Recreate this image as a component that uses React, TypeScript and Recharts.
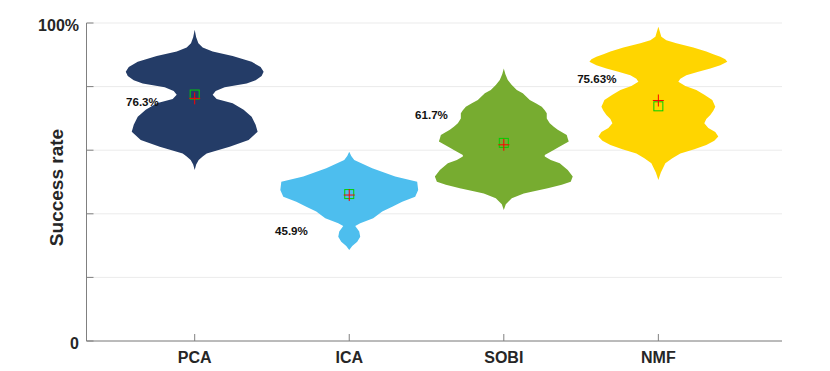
import React from 'react';
import { ComposedChart, Area, Scatter, XAxis, YAxis, CartesianGrid } from 'recharts';

const categories = ['PCA', 'ICA', 'SOBI', 'NMF'];
const colors = ['#243C67', '#4DBEEE', '#77AC30', '#FFD500'];
const medianRate = [76.3, 45.9, 61.7, 75.63];
const meanRate = [77.5, 46.2, 62.3, 73.8];
const rateLabels = ['76.3%', '45.9%', '61.7%', '75.63%'];
const labelX = [0.662, 1.626, 2.532, 3.602];
const labelRate = [75.2, 34.9, 71.3, 82.5];
const yTicks = [0, 20, 40, 60, 80, 100];
const xTicks = [1, 2, 3, 4];

// violin profiles: success-rate levels and relative half-widths (density)
const pcaLevels = [53.8, 55.5, 56.9, 58.0, 59.0, 60.0, 61.1, 63.2, 65.8, 68.0, 70.5, 72.7, 74.8, 76.1, 77.4, 78.6, 79.8, 81.0, 82.0, 83.3, 84.7, 86.2, 87.8, 89.6, 91.0, 92.3, 93.6, 95.5, 97.9];
const pcaWidths = [0, 1.5, 4, 8, 12, 23, 35, 54, 63, 61, 57, 49, 38, 22, 18, 21, 30, 52, 61, 67, 69, 66, 57, 38, 18, 8, 3.7, 1.5, 0];

const icaLevels = [28.6, 29.9, 31.2, 32.8, 34.4, 36.2, 37.0, 38.6, 40.7, 42.2, 43.8, 45.4, 47.5, 50.1, 51.7, 54.3, 56.9, 58.2, 59.5];
const icaWidths = [0, 3, 8, 11, 10, 6, 11, 24, 33, 43, 53, 66, 69, 68, 46, 23, 5, 2, 0];

const sobiLevels = [41.2, 43.0, 44.9, 46.4, 47.0, 48.0, 49.1, 50.1, 51.7, 53.8, 55.9, 56.9, 58.0, 58.5, 60.1, 60.6, 62.7, 63.7, 64.8, 66.4, 67.4, 68.5, 70.0, 71.6, 72.6, 73.7, 74.8, 75.8, 77.9, 78.9, 80.5, 82.1, 84.0, 85.7];
const sobiWidths = [0, 2, 8, 20, 29, 44, 58, 67, 69, 64, 56, 47, 41, 41, 50, 53, 65, 64, 63, 54, 50, 46, 43, 43, 41, 38, 32, 26, 19, 13, 8, 4, 1.5, 0];

const nmfLevels = [50.6, 53.0, 55.9, 57.5, 59.0, 60.3, 61.6, 63.0, 64.3, 65.7, 67.0, 68.5, 69.8, 71.1, 72.4, 73.7, 75.8, 77.4, 78.9, 80.2, 81.5, 82.5, 83.6, 84.7, 85.7, 86.7, 87.8, 88.6, 89.4, 90.2, 91.0, 92.3, 93.6, 94.6, 95.7, 98.8];
const nmfWidths = [0, 2.5, 7, 14, 22, 36, 48, 56, 60, 57, 50, 46, 48, 52, 55, 57, 54, 46, 38, 27, 20, 22, 28, 40, 52, 62, 69, 67, 62, 55, 48, 35, 18, 8, 3, 0];

const profiles = [
  { levels: pcaLevels, widths: pcaWidths },
  { levels: icaLevels, widths: icaWidths },
  { levels: sobiLevels, widths: sobiWidths },
  { levels: nmfLevels, widths: nmfWidths },
];

const MAX_DENSITY = 69;
const MAX_HALF_WIDTH = 0.446;

const allLevels = Array.from(new Set(profiles.flatMap((p) => p.levels))).sort((a, b) => a - b);
const violinData = allLevels.map((v) => {
  const row: any = { v };
  profiles.forEach((p, i) => {
    const k = p.levels.indexOf(v);
    const c = i + 1;
    if (k >= 0) {
      const hw = (p.widths[k] / MAX_DENSITY) * MAX_HALF_WIDTH;
      row[categories[i]] = [c - hw, c + hw];
    } else {
      row[categories[i]] = [null, null];
    }
  });
  return row;
});

const meanData = categories.map((_, i) => ({ x: i + 1, v: meanRate[i] }));
const medianData = categories.map((_, i) => ({ x: i + 1, v: medianRate[i] }));
const labelData = categories.map((_, i) => ({ x: labelX[i], v: labelRate[i], text: rateLabels[i] }));

const FONT = '"Liberation Sans", Arial, Helvetica, sans-serif';

const SquareShape = (props: any) => {
  const { cx, cy } = props;
  return <rect x={cx - 4.5} y={cy - 4.5} width={9} height={9} fill="none" stroke="#00D000" strokeWidth={1} />;
};

const PlusShape = (props: any) => {
  const { cx, cy } = props;
  return (
    <g stroke="#FF0000" strokeWidth={1}>
      <line x1={cx - 5.5} y1={cy} x2={cx + 5.5} y2={cy} />
      <line x1={cx} y1={cy - 6} x2={cx} y2={cy + 6} />
    </g>
  );
};

const LabelShape = (props: any) => {
  const { cx, cy, payload } = props;
  return (
    <text x={cx} y={cy} textAnchor="middle" dominantBaseline="central" fontFamily={FONT} fontWeight="bold" fontSize={11.6} fill="#111">
      {payload.text}
    </text>
  );
};

const YLabel = (props: any) => {
  const vb = props.viewBox || { x: 0, y: 23, width: 86.5, height: 318 };
  const x = vb.x + vb.width - 23.5;
  const y = vb.y + vb.height / 2 + 5.5;
  return (
    <text x={x} y={y} transform={`rotate(-90 ${x} ${y})`} textAnchor="middle" fontFamily={FONT} fontWeight="bold" fontSize={19} fill="#262626">
      Success rate
    </text>
  );
};

export default function App() {
  return (
    <div style={{ position: 'absolute', left: 0, top: 0, width: 830, height: 371, background: '#fff' }}>
      <ComposedChart
        width={830}
        height={371}
        data={violinData}
        layout="vertical"
        margin={{ top: 23, right: 48, bottom: 0, left: 0 }}
      >
        <CartesianGrid horizontal={true} vertical={false} stroke="#EBEBEB" strokeWidth={1} />
        <XAxis
          type="number"
          dataKey="x"
          domain={[0.3, 4.8]}
          allowDataOverflow
          ticks={xTicks}
          interval={0}
          tickFormatter={(t: number) => categories[t - 1] ?? ''}
          height={30}
          tickSize={-7}
          tickMargin={17.5}
          stroke="#808080"
          tick={{ fontFamily: FONT, fontWeight: 'bold', fontSize: 16, fill: '#262626' }}
          tickLine={{ stroke: '#808080' }}
          axisLine={{ stroke: '#808080' }}
        />
        <YAxis
          type="number"
          dataKey="v"
          domain={[0, 100]}
          allowDataOverflow
          reversed
          ticks={yTicks}
          interval={0}
          width={86.5}
          tickSize={-7}
          tickMargin={14.5}
          tickFormatter={(t: number) => (t === 100 ? '100%' : t === 0 ? '0' : '')}
          tick={{ fontFamily: FONT, fontWeight: 'bold', fontSize: 16, fill: '#262626', dy: 2 }}
          tickLine={{ stroke: '#808080' }}
          axisLine={{ stroke: '#808080' }}
          label={<YLabel />}
        />
        {categories.map((c, i) => (
          <Area
            key={c}
            dataKey={c}
            type="linear"
            connectNulls
            fill={colors[i]}
            fillOpacity={1}
            stroke="none"
            isAnimationActive={false}
            dot={false}
            activeDot={false}
          />
        ))}
        <Scatter data={meanData} dataKey="v" shape={<SquareShape />} isAnimationActive={false} />
        <Scatter data={medianData} dataKey="v" shape={<PlusShape />} isAnimationActive={false} />
        <Scatter data={labelData} dataKey="v" shape={<LabelShape />} isAnimationActive={false} />
      </ComposedChart>
    </div>
  );
}
